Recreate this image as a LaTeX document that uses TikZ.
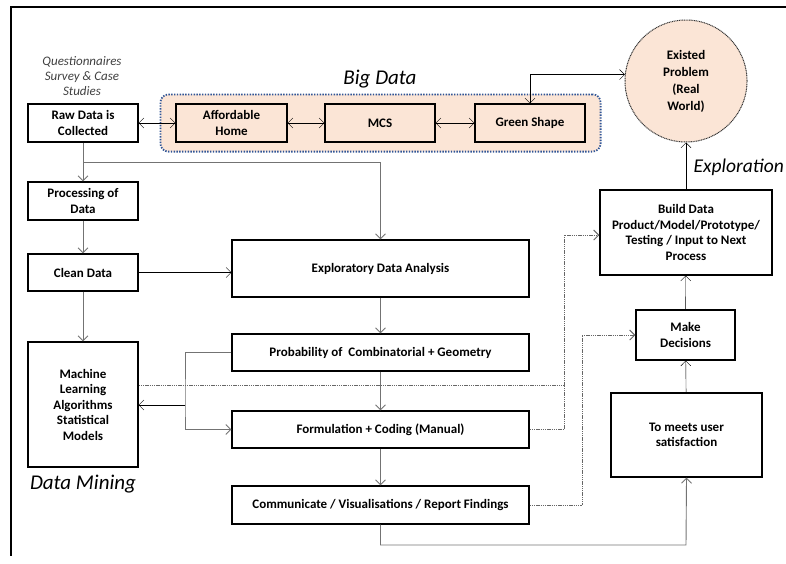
\documentclass[tikz,border=0pt]{standalone}
\usepackage{fontspec}
\setmainfont{Carlito}
\usepackage{tikz}
\usetikzlibrary{
	positioning,
	arrows.meta,
	fit,
	backgrounds,
	calc
  }
\definecolor{peach}{HTML}{FBE5D6}
\definecolor{bigblue}{HTML}{2F5597}
\tikzstyle{blk}=[draw, line width=1.2pt, font=\bfseries\fontsize{13}{15.5}\selectfont, align=center, inner sep=0pt, minimum width=110pt, minimum height=38pt]
\tikzstyle{wide}=[blk, minimum width=297pt, minimum height=37pt]
\tikzstyle{gline}=[draw=black!55, line width=0.9pt]
\tikzstyle{dline}=[draw=black!60, line width=1pt, dash pattern=on 1.4pt off 0.8pt]
\tikzstyle{biglabel}=[font=\itshape\fontsize{21}{24}\selectfont]

\begin{document}
\begin{tikzpicture}[x=1pt, y=-1pt, >={Straight Barb[length=5pt,width=10pt]}]
	\useasboundingbox (0,0) rectangle (786,563);
	\draw[line width=2.2pt] (786,7) -- (11,7) -- (11,556);
	\node[font=\itshape\fontsize{13}{15}\selectfont, text=black!75, align=center] (src) at (82,76) {Questionnaires\\Survey \& Case\\Studies};
	\node[blk] (raw) at (83,123) {Raw Data is\\Collected};
	\node[blk, fill=peach, minimum width=111pt] (aff) at (231.5,123) {Affordable\\Home};
	\node[blk, fill=peach] (mcs) at (380,123) {MCS};
	\node[blk, fill=peach] (green) at (530,123) {Green Shape};
	\begin{scope}[on background layer]
		\node[draw=bigblue, fill=peach, line width=1.8pt, dash pattern=on 1.4pt off 1.4pt, rounded corners=8pt, fit=(aff) (green), inner xsep=15pt, inner ysep=9pt] (bigdata) {};
	\end{scope}
	\node[biglabel] (bdlabel) at (380,79) {Big Data};
	\node[circle, draw=black!80, fill=peach, line width=1pt, dash pattern=on 1pt off 0.7pt, minimum size=122pt, inner sep=0pt, align=center, font=\bfseries\fontsize{13}{17}\selectfont] (exist) at (686,81) {Existed\\Problem\\(Real\\World)};
	\node[biglabel, font=\itshape\fontsize{19.5}{22}\selectfont, anchor=east, inner xsep=0pt] (explo) at (784,167) {Exploration};
	\node[blk] (proc) at (83,201) {Processing of\\Data};
	\node[blk, minimum height=37pt] (clean) at (83,272.5) {Clean Data};
	\node[blk, minimum height=125pt] (ml) at (83,404.5) {Machine\\Learning\\Algorithms\\Statistical\\Models};
	\node[biglabel] (dmlabel) at (83,484) {Data Mining};
	\node[wide, minimum height=57pt] (eda) at (380.5,268.5) {Exploratory Data Analysis};
	\node[wide] (prob) at (380.5,352.5) {Probability of~ Combinatorial + Geometry};
	\node[wide] (form) at (380.5,429.5) {Formulation + Coding (Manual)};
	\node[wide, minimum height=38pt] (comm) at (380.5,505) {Communicate / Visualisations / Report Findings};
	\node[blk, minimum width=172pt, minimum height=85pt] (build) at (686,232.5) {Build Data\\Product/Model/Prototype/\\Testing / Input to Next\\Process};
	\node[blk, minimum width=99pt, minimum height=50pt] (make) at (685.5,335) {Make\\Decisions};
	\node[blk, minimum width=151pt, minimum height=84pt] (meet) at (686.5,435) {To meets user\\satisfaction};
	\coordinate (rsplit) at (83,162);
	\coordinate (fork) at (185,405);
	\coordinate (d1) at (564,385);
	\coordinate (d2) at (564,235);
	\coordinate (d3) at (582,335);
	\coordinate (d4) at (686,545);
	\draw[<->] (raw) to (aff);
	\draw[<->] (aff) to (mcs);
	\draw[<->] (mcs) to (green);
	\draw[<->] (green.north) |- (exist.174);
	\draw[gline, ->] (raw) to (proc);
	\draw[gline, ->] (rsplit) -| (eda.north);
	\draw[gline, ->] (proc) to (clean);
	\draw[gline, ->] (clean) to (ml);
	\draw[->] (clean.east) -- (clean.east -| eda.west);
	\draw[gline, ->] (eda) to (prob);
	\draw[gline, ->] (prob) to (form);
	\draw[gline, ->] (form) to (comm);
	\draw[gline, ->] (prob.west) -| (fork) |- (form.west);
	\draw[->] (fork) -- (fork -| ml.east);
	\draw[dline, ->] (ml.east |- d1) -- (d1) -- (d2) -- (d2 -| build.west);
	\draw[dline] (form.east) -| (d1);
	\draw[dline, ->] (comm.east) -| (d3) -- (make.west);
	\draw[gline, ->] (comm.south) |- (d4) -- (meet.south);
	\draw[->] (meet) to (make);
	\draw[->] (make) to (build);
	\draw[->] (build) to (exist);
\end{tikzpicture}
\end{document}
